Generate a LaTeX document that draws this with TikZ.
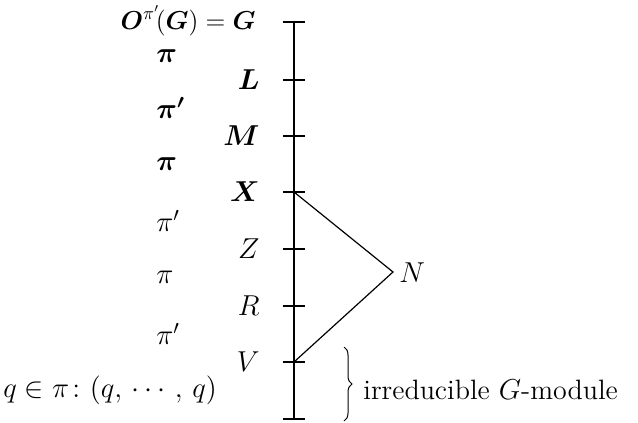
\documentclass[tikz,border=0pt]{standalone}
\usepackage{amsmath,amssymb}
\usetikzlibrary{decorations.pathreplacing}

\begin{document}
\begin{tikzpicture}[x=0.5pt,y=-0.5pt,font=\fontsize{14}{17}\selectfont]
\useasboundingbox (0,0) rectangle (638,423);
\tikzset{tickmark/.style={line width=0.6pt},
  sublabel/.style={anchor=east,inner sep=0pt},
  quotlabel/.style={anchor=west,inner sep=0pt}}

\foreach \n/\y in {G/22,L/80,M/136,X/192,Z/249,R/306,V/362,B/419}
  \coordinate (\n) at (294,\y);
\coordinate (N) at (393,272);

\draw[line width=1.3pt] (G) -- (X);
\draw[line width=0.6pt] (X) -- (B);
\foreach \n in {G,L,M,X,Z,R,V,B}
  \draw[tickmark] ([xshift=-5.5pt]\n) -- ([xshift=5.5pt]\n);
\draw[line width=0.6pt] (X) -- (N) -- (V);

\node[inner sep=0pt,anchor=base east] (labG) at (256,30)
  {\scalebox{0.9}{$\boldsymbol{O}^{\pi'}\!(\boldsymbol{G})=\boldsymbol{G}$}};
\foreach \n/\lab in {L/\boldsymbol{L},M/\boldsymbol{M},X/\boldsymbol{X},Z/Z,R/R,V/V}
  \node[sublabel] (lab\n) at ([xshift=-17pt]\n) {$\lab$};
\node[anchor=west,inner sep=0pt] (labN) at (399,273) {$N$};

\foreach \y/\lab [count=\i] in {56/\boldsymbol{\pi},108/\boldsymbol{\pi'},164/\boldsymbol{\pi},221/\pi',277/\pi,334/\pi'}
  \node[quotlabel] (q\i) at (156,\y) {$\lab$};

\node[quotlabel] (chief) at (3,390) {$q\in\pi\colon (q,\,\cdots,\,q)$};
\draw[line width=0.5pt,decorate,decoration={brace,amplitude=4pt}]
  (344,347) -- (344,421);
\node[quotlabel] (module) at (363,390) {irreducible\ $G$-module};
\end{tikzpicture}
\end{document}
